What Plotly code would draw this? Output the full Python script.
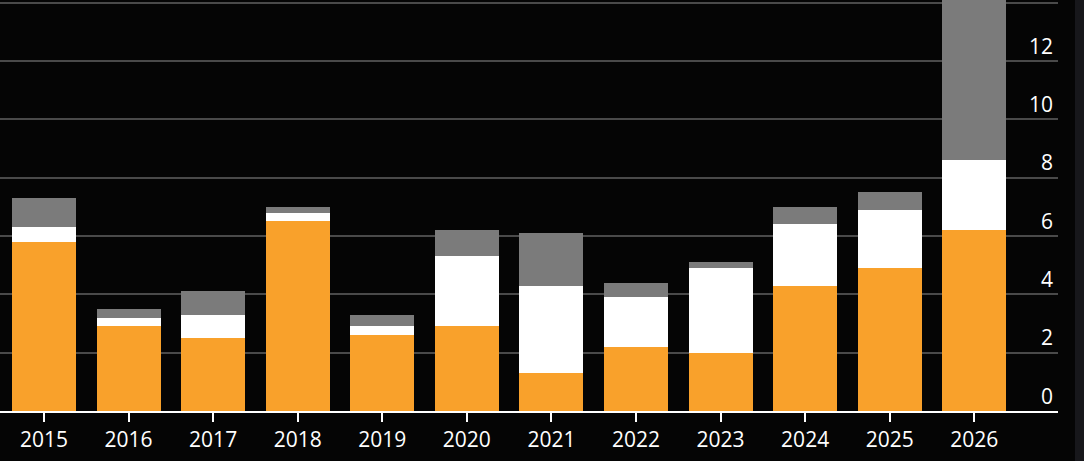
import plotly.graph_objects as go

years = ["2015", "2016", "2017", "2018", "2019", "2020",
         "2021", "2022", "2023", "2024", "2025", "2026"]

# stacked segments
orange_part = [5.8, 2.9, 2.5, 6.5, 2.6, 2.9, 1.3, 2.2, 2.0, 4.3, 4.9, 6.2]
white_part = [0.5, 0.3, 0.8, 0.3, 0.3, 2.4, 3.0, 1.7, 2.9, 2.1, 2.0, 2.4]
gray_part = [1.0, 0.3, 0.8, 0.2, 0.4, 0.9, 1.8, 0.5, 0.2, 0.6, 0.6, 6.5]

y_ticks = [0, 2, 4, 6, 8, 10, 12, 14]
y_labels = ["0", "2", "4", "6", "8", "10", "12", ""]

fig = go.Figure()

for vals, col in [(orange_part, "#f9a12b"), (white_part, "#ffffff"), (gray_part, "#7b7b7b")]:
    fig.add_trace(go.Bar(
        x=years,
        y=vals,
        marker=dict(color=col, line=dict(width=0)),
        hoverinfo="skip",
    ))

fig.update_layout(
    barmode="stack",
    bargap=0.244,
    showlegend=False,
    width=1084,
    height=461,
    margin=dict(l=0, r=26, t=0, b=50),
    paper_bgcolor="#050505",
    plot_bgcolor="#050505",
    font=dict(family="Open Sans", color="#ffffff", size=21),
    xaxis=dict(
        type="category",
        range=[-0.52, 11.99],
        showline=True,
        linecolor="#ffffff",
        linewidth=2,
        ticks="outside",
        ticklen=9,
        tickwidth=2,
        tickcolor="#ffffff",
        showgrid=False,
        fixedrange=True,
    ),
    yaxis=dict(
        side="right",
        range=[0, 14.09],
        tickvals=y_ticks,
        ticktext=y_labels,
        ticklabelposition="inside top",
        ticklabelstandoff=2,
        ticks="",
        showgrid=True,
        gridcolor="#4a4a4a",
        gridwidth=1.5,
        zeroline=False,
        showline=False,
        fixedrange=True,
    ),
    shapes=[dict(
        type="rect", xref="paper", yref="paper",
        x0=1.016, x1=1.03, y0=-0.2, y1=1.05,
        fillcolor="#17171b", line=dict(width=0), layer="below",
    )],
)

# page has a default 8px body margin; drop it so the chart fills the window
fig.write_html(
    "out.html",
    config={"displayModeBar": False},
    post_script="document.body.style.margin='0';document.body.style.background='#050505';",
)
